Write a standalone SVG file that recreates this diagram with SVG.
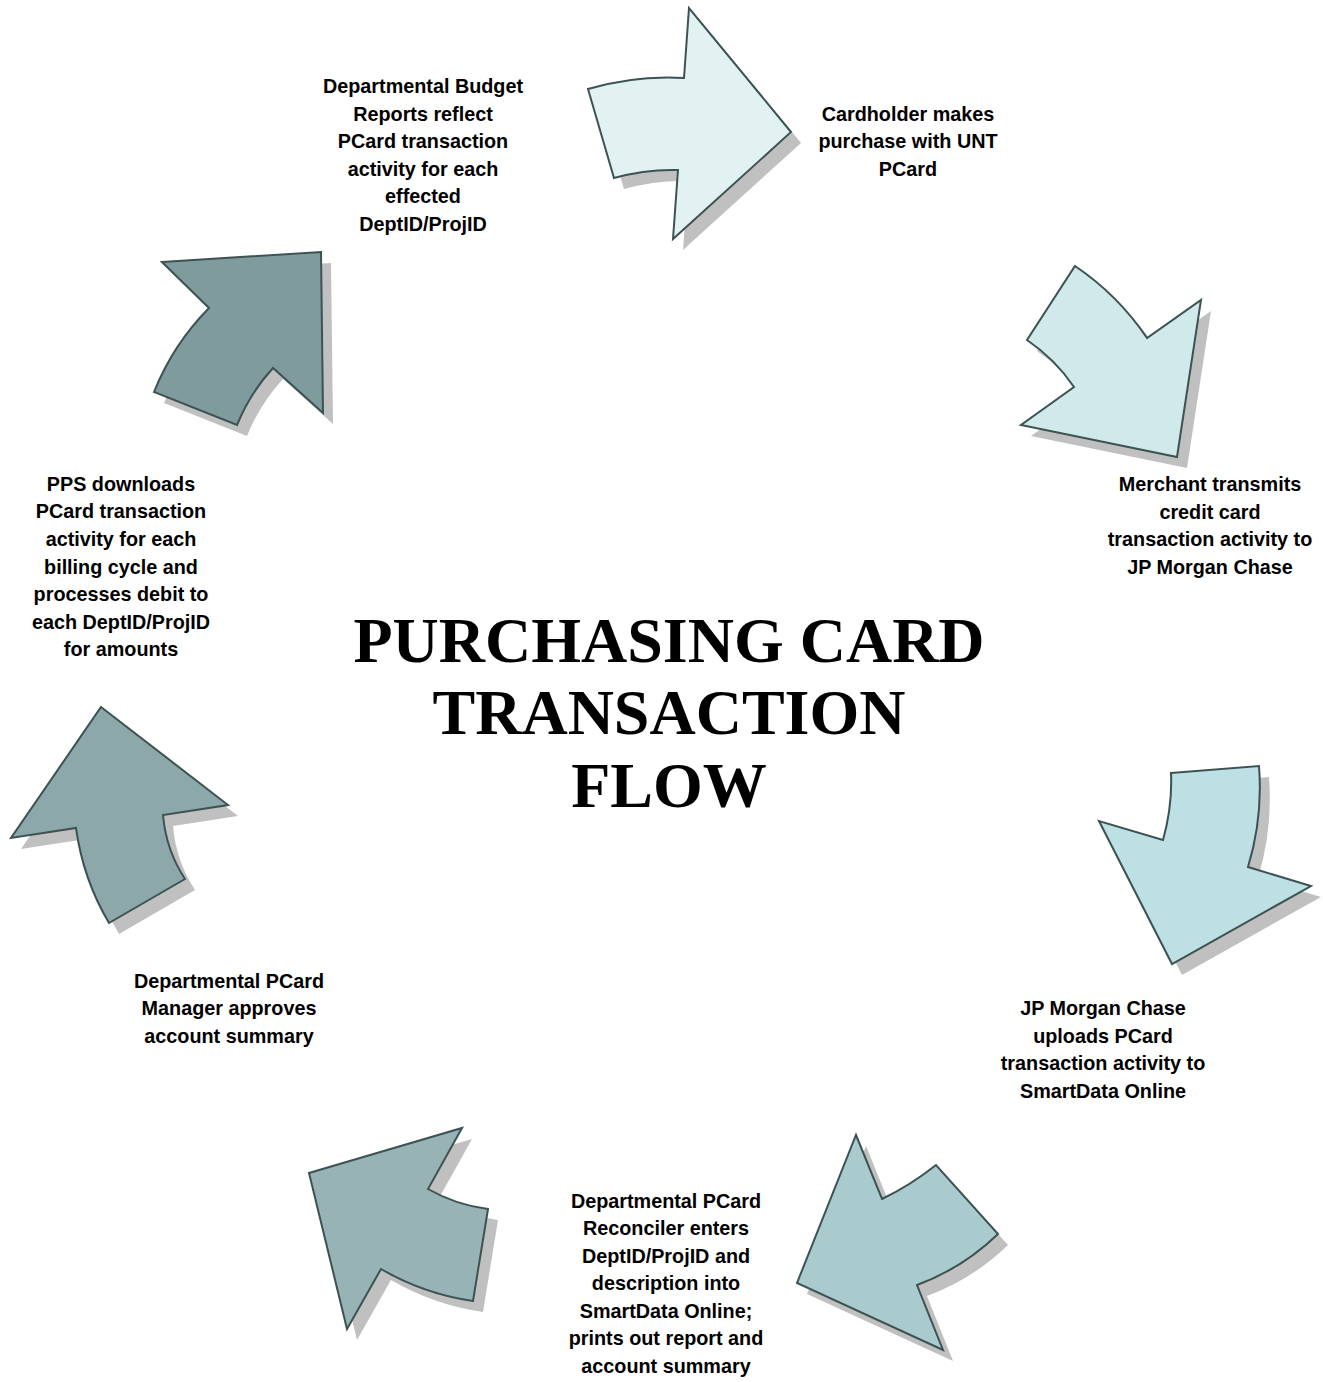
<svg xmlns="http://www.w3.org/2000/svg" width="1323" height="1382" viewBox="0 0 1323 1382">
  <style>
    .lbl { font-family: "Liberation Sans", Arial, sans-serif; font-weight: bold; font-size: 19.8px; fill: #000; text-anchor: middle; }
    .title { font-family: "Liberation Serif", "Times New Roman", serif; font-weight: bold; font-size: 64px; fill: #000; text-anchor: middle; }
    .shadow { fill: #c0c0c0; stroke: none; }
    .arrow { stroke: #3d5252; stroke-width: 2; stroke-linejoin: miter; }
  </style>
  <defs>
    <!-- curved block arrows arranged clockwise around the title -->
    <path id="arr1" d="M588,89 Q636,75 684,78 L689,8 L791,132 L673,239 L678,170 Q646,169 614,178 Z"/>
    <path id="arr2" d="M1075,266 Q1118,295 1147,338 L1201,300 L1177,457 L1021,425 L1074,387 Q1055,359 1027,340 Z"/>
    <path id="arr3" d="M1171,773 L1259,766 Q1263,818 1248,867 L1311,886 L1172,964 L1099,821 L1163,840 Q1172.5,806 1171,773 Z"/>
    <path id="arr4" d="M856,1135 L882,1199 Q911,1185 936,1165 L998,1234 Q963,1268 917,1285 L943,1350 L797,1283 Z"/>
    <path id="arr5" d="M462,1128 L428,1189 Q456,1205 488,1209 L473,1301 Q424,1294 381,1269 L347,1329 L309,1173 Z"/>
    <path id="arr6" d="M101,707 L228,805 L163,815 Q166,850 185,879 L109,923 Q83,879 76,828 L11,838 Z"/>
    <path id="arr7" d="M162,262 L321,252 L323,413 L273,368 Q250,393 237,425 L154,392 Q173,344.5 209,308 Z"/>
  </defs>

  <rect width="1323" height="1382" fill="#ffffff"/>

  <!-- flow arrows between the steps -->
  <g id="connectors">
    <g id="arrow-1">
      <use href="#arr1" class="shadow" transform="translate(10,11)"/>
      <use href="#arr1" class="arrow" fill="#e2f2f3"/>
    </g>
    <g id="arrow-2">
      <use href="#arr2" class="shadow" transform="translate(10,11)"/>
      <use href="#arr2" class="arrow" fill="#d0e9eb"/>
    </g>
    <g id="arrow-3">
      <use href="#arr3" class="shadow" transform="translate(10,11)"/>
      <use href="#arr3" class="arrow" fill="#bde0e4"/>
    </g>
    <g id="arrow-4">
      <use href="#arr4" class="shadow" transform="translate(10,11)"/>
      <use href="#arr4" class="arrow" fill="#a9cbce"/>
    </g>
    <g id="arrow-5">
      <use href="#arr5" class="shadow" transform="translate(10,11)"/>
      <use href="#arr5" class="arrow" fill="#98b3b5"/>
    </g>
    <g id="arrow-6">
      <use href="#arr6" class="shadow" transform="translate(10,11)"/>
      <use href="#arr6" class="arrow" fill="#8da8aa"/>
    </g>
    <g id="arrow-7">
      <use href="#arr7" class="shadow" transform="translate(10,11)"/>
      <use href="#arr7" class="arrow" fill="#7f9b9e"/>
    </g>
  </g>

  <!-- title -->
  <g id="title">
    <text class="title" x="669" y="662">PURCHASING CARD</text>
    <text class="title" x="669" y="734">TRANSACTION</text>
    <text class="title" x="669" y="807">FLOW</text>
  </g>

  <!-- steps -->
  <g id="step-purchase">
    <text class="lbl" x="908" y="121">Cardholder makes</text>
    <text class="lbl" x="908" y="148">purchase with UNT</text>
    <text class="lbl" x="908" y="176">PCard</text>
  </g>

  <g id="step-merchant">
    <text class="lbl" x="1210" y="491">Merchant transmits</text>
    <text class="lbl" x="1210" y="519">credit card</text>
    <text class="lbl" x="1210" y="546">transaction activity to</text>
    <text class="lbl" x="1210" y="574">JP Morgan Chase</text>
  </g>

  <g id="step-bank">
    <text class="lbl" x="1103" y="1015">JP Morgan Chase</text>
    <text class="lbl" x="1103" y="1043">uploads PCard</text>
    <text class="lbl" x="1103" y="1070">transaction activity to</text>
    <text class="lbl" x="1103" y="1098">SmartData Online</text>
  </g>

  <g id="step-reconciler">
    <text class="lbl" x="666" y="1208">Departmental PCard</text>
    <text class="lbl" x="666" y="1235">Reconciler enters</text>
    <text class="lbl" x="666" y="1263">DeptID/ProjID and</text>
    <text class="lbl" x="666" y="1290">description into</text>
    <text class="lbl" x="666" y="1318">SmartData Online;</text>
    <text class="lbl" x="666" y="1345">prints out report and</text>
    <text class="lbl" x="666" y="1373">account summary</text>
  </g>

  <g id="step-manager">
    <text class="lbl" x="229" y="988">Departmental PCard</text>
    <text class="lbl" x="229" y="1015">Manager approves</text>
    <text class="lbl" x="229" y="1043">account summary</text>
  </g>

  <g id="step-pps">
    <text class="lbl" x="121" y="491">PPS downloads</text>
    <text class="lbl" x="121" y="518">PCard transaction</text>
    <text class="lbl" x="121" y="546">activity for each</text>
    <text class="lbl" x="121" y="574">billing cycle and</text>
    <text class="lbl" x="121" y="601">processes debit to</text>
    <text class="lbl" x="121" y="629">each DeptID/ProjID</text>
    <text class="lbl" x="121" y="656">for amounts</text>
  </g>

  <g id="step-budget">
    <text class="lbl" x="423" y="93">Departmental Budget</text>
    <text class="lbl" x="423" y="121">Reports reflect</text>
    <text class="lbl" x="423" y="148">PCard transaction</text>
    <text class="lbl" x="423" y="176">activity for each</text>
    <text class="lbl" x="423" y="203">effected</text>
    <text class="lbl" x="423" y="231">DeptID/ProjID</text>
  </g>
</svg>
